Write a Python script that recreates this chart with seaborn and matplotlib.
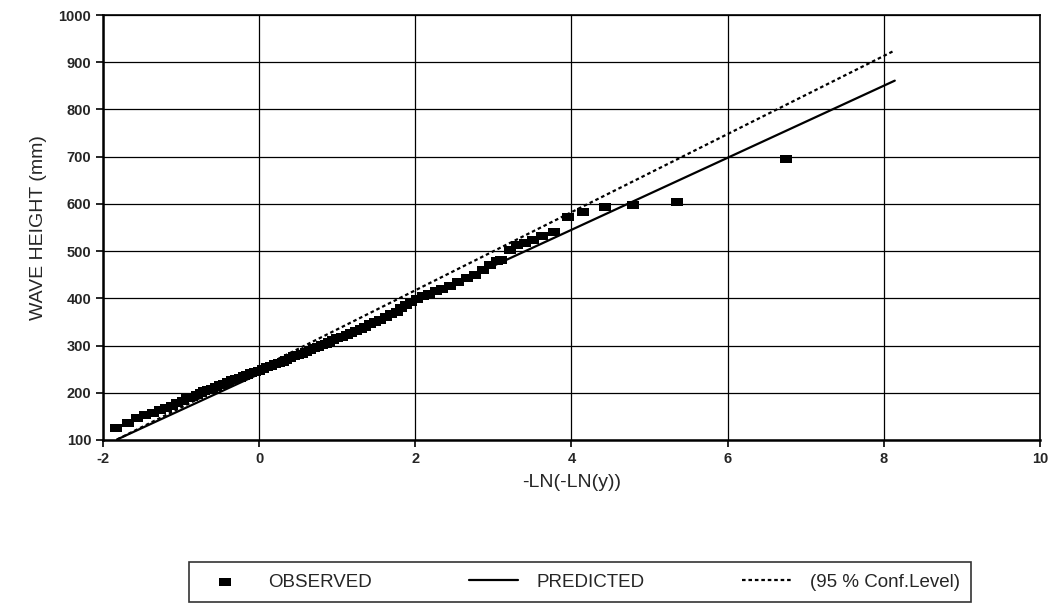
"""Gumbel plot of observed wave heights against the fitted distribution."""
import matplotlib
matplotlib.use("Agg")
import matplotlib.pyplot as plt
import seaborn as sns
import pandas as pd

# observed reduced variate -LN(-LN(y)) and wave height (mm)
obs_x = [-1.83, -1.68, -1.57, -1.46, -1.36, -1.27, -1.19, -1.12, -1.05, -0.98,
         -0.92, -0.86, -0.80, -0.75, -0.70, -0.65, -0.60, -0.55, -0.50, -0.45,
         -0.40, -0.35, -0.30, -0.25, -0.20, -0.15, -0.10, -0.05, 0.00, 0.05,
         0.10, 0.15, 0.20, 0.25, 0.30, 0.35, 0.40, 0.45, 0.50, 0.55,
         0.60, 0.65, 0.70, 0.75, 0.80, 0.85, 0.90, 0.95, 1.00, 1.06,
         1.12, 1.18, 1.24, 1.30, 1.36, 1.42, 1.48, 1.55, 1.62, 1.69,
         1.76, 1.82, 1.88, 1.95, 2.02, 2.10, 2.18, 2.26, 2.34, 2.44,
         2.55, 2.66, 2.76, 2.87, 2.96, 3.04, 3.10, 3.21, 3.30, 3.40,
         3.51, 3.62, 3.77, 3.96, 4.15, 4.43, 4.79, 5.35, 6.75]
obs_y = [126, 137, 146, 152, 158, 163, 168, 173, 178, 183,
         188, 192, 196, 200, 203, 206, 209, 213, 216, 219,
         222, 226, 229, 232, 235, 238, 241, 244, 247, 251,
         254, 257, 260, 263, 266, 270, 273, 277, 280, 283,
         287, 290, 294, 297, 301, 304, 308, 312, 315, 319,
         323, 327, 331, 336, 340, 345, 350, 355, 360, 366,
         372, 380, 386, 392, 398, 404, 410, 415, 420, 426,
         435, 443, 450, 460, 471, 478, 482, 502, 513, 517,
         524, 531, 541, 573, 583, 594, 598, 605, 695]

# fitted line and upper 95 % confidence line (end points)
pred_x = [-1.82, 8.14]
pred_y = [101, 861]
conf_x = [-1.82, 8.14]
conf_y = [101, 925]

x_ticks = [-2, 0, 2, 4, 6, 8, 10]
y_ticks = [100, 200, 300, 400, 500, 600, 700, 800, 900, 1000]

sns.set_style("white")
plt.rcParams['font.family'] = ['Liberation Sans', 'DejaVu Sans']
plt.rcParams['axes.unicode_minus'] = False

fig = plt.figure(figsize=(10.55, 6.1), dpi=100)
ax = fig.add_axes([0.0976, 0.2787, 0.8882, 0.6967])

obs = pd.DataFrame({'x': obs_x, 'y': obs_y})
rect = [(-1, -0.62), (1, -0.62), (1, 0.62), (-1, 0.62), (-1, -0.62)]
sns.scatterplot(data=obs, x='x', y='y', ax=ax, marker=rect, s=75,
                color='black', edgecolor='black', linewidth=0, zorder=3,
                label='OBSERVED')
sns.lineplot(x=pred_x, y=pred_y, ax=ax, color='black', lw=1.6,
             zorder=4, label='PREDICTED')
sns.lineplot(x=conf_x, y=conf_y, ax=ax, color='black', lw=1.6,
             linestyle=(0, (1.6, 1.3)), zorder=4, label='(95 % Conf.Level)')

ax.set_xlim(-2, 10)
ax.set_ylim(100, 1000)
ax.set_xticks(x_ticks)
ax.set_yticks(y_ticks)
ax.grid(True, color='black', lw=0.9)
ax.set_axisbelow(True)
for side in ['left', 'bottom', 'top', 'right']:
    ax.spines[side].set_color('black')
    ax.spines[side].set_linewidth(1.2)
ax.spines['left'].set_linewidth(1.8)
ax.spines['bottom'].set_linewidth(1.8)
ax.tick_params(direction='out', length=5, width=1.2, color='black',
               labelsize=10.5, bottom=True, left=True)
for lab in ax.get_xticklabels() + ax.get_yticklabels():
    lab.set_fontweight('bold')

ax.set_xlabel('-LN(-LN(y))', fontsize=14, labelpad=6)
ax.set_ylabel('WAVE HEIGHT (mm)', fontsize=14, labelpad=8)

handles, labels = ax.get_legend_handles_labels()
ax.get_legend().remove()
leg = fig.legend(handles, labels, loc='center', ncol=3,
                 bbox_to_anchor=(580 / 1055, 28 / 610), fontsize=13.5,
                 frameon=True, fancybox=False, edgecolor='black',
                 handlelength=2.6, columnspacing=5.2, borderpad=0.6,
                 handletextpad=1.0)
leg.get_frame().set_linewidth(1.2)

plt.savefig('out.png', dpi=100)
